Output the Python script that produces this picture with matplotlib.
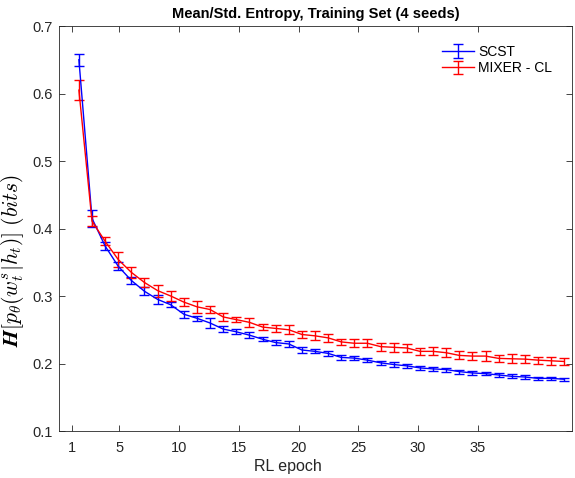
import numpy as np
import matplotlib
matplotlib.use("Agg")
import matplotlib.pyplot as plt

# RL epochs and mean/std entropy over 4 seeds
epochs = np.arange(1, 39)

scst_mean = [0.650, 0.415, 0.374, 0.344, 0.323, 0.307, 0.295, 0.287, 0.273, 0.267,
             0.260, 0.251, 0.247, 0.242, 0.236, 0.231, 0.229, 0.220, 0.218, 0.215,
             0.209, 0.208, 0.205, 0.201, 0.1985, 0.1965, 0.1935, 0.192, 0.191, 0.188,
             0.186, 0.185, 0.183, 0.181, 0.180, 0.178, 0.178, 0.1767]
scst_std = [0.009, 0.013, 0.006, 0.006, 0.005, 0.006, 0.007, 0.004, 0.005, 0.004,
            0.007, 0.005, 0.004, 0.004, 0.003, 0.0035, 0.004, 0.0045, 0.003, 0.0035,
            0.004, 0.003, 0.003, 0.003, 0.003, 0.0025, 0.003, 0.003, 0.003, 0.003,
            0.003, 0.002, 0.003, 0.003, 0.0025, 0.0027, 0.0027, 0.0025]

mixer_mean = [0.605, 0.411, 0.381, 0.354, 0.335, 0.320, 0.308, 0.300, 0.291, 0.284,
              0.280, 0.269, 0.265, 0.261, 0.254, 0.252, 0.250, 0.243, 0.241, 0.238,
              0.232, 0.230, 0.230, 0.225, 0.224, 0.223, 0.218, 0.218, 0.216, 0.212,
              0.211, 0.211, 0.2076, 0.207, 0.2065, 0.205, 0.204, 0.203]
mixer_std = [0.015, 0.007, 0.006, 0.011, 0.008, 0.007, 0.009, 0.0075, 0.006, 0.009,
             0.005, 0.006, 0.004, 0.0065, 0.005, 0.005, 0.0065, 0.0055, 0.0065, 0.0055,
             0.005, 0.006, 0.006, 0.006, 0.0065, 0.0055, 0.0055, 0.006, 0.0065, 0.006,
             0.006, 0.0075, 0.005, 0.0065, 0.006, 0.005, 0.006, 0.0055]

tick_labels = [1, 5, 10, 15, 20, 25, 30, 35]

plt.rcParams["font.family"] = ["Liberation Sans", "DejaVu Sans"]
plt.rcParams["mathtext.fontset"] = "cm"

fig = plt.figure(figsize=(5.75, 4.78), dpi=100)
ax = fig.add_axes([0.103, 0.0983, 0.892, 0.8473])

ax.errorbar(epochs, scst_mean, yerr=scst_std, color="blue", lw=1.0,
            capsize=3.8, elinewidth=1.0, capthick=1.0, label="SCST")
ax.errorbar(epochs, mixer_mean, yerr=mixer_std, color="red", lw=1.0,
            capsize=3.8, elinewidth=1.0, capthick=1.0, label="MIXER - CL")

ax.set_xlim(-0.5, 38.6)
ax.set_ylim(0.1, 0.7)
# tick labels in the source sit on a slightly different scale than the points
tick_pos = [0.44 + (t - 1) * 0.911 for t in tick_labels]
ax.set_xticks(tick_pos)
ax.set_xticklabels([str(t) for t in tick_labels])
ax.set_yticks(np.arange(0.1, 0.71, 0.1))
ax.set_yticklabels([f"{v:.1f}" for v in np.arange(0.1, 0.71, 0.1)])
ax.tick_params(direction="in", top=True, right=True, length=4.5, width=0.6,
               labelsize=10.5, colors="#262626")
ax.tick_params(axis="x", pad=7)
ax.tick_params(axis="y", pad=5)
for s in ax.spines.values():
    s.set_linewidth(0.6)
    s.set_color("#262626")

ax.set_xlabel("RL epoch", fontsize=11.5, color="#262626")
ax.xaxis.set_label_coords(0.446, -0.068)
ax.set_ylabel(r"$\mathbfit{H}[p_\theta(w_t^s|h_t)]\ (bits)$", fontsize=15.5)
ax.yaxis.set_label_coords(-0.064, 0.42)
ax.set_title("Mean/Std. Entropy, Training Set (4 seeds)", fontsize=10.5,
             fontweight="bold", pad=6)

ax.legend(loc="upper right", frameon=False, fontsize=10, handlelength=2.3,
          handletextpad=0.3, labelspacing=0.2, bbox_to_anchor=(0.985, 0.985))

fig.savefig("out.png", dpi=100)
